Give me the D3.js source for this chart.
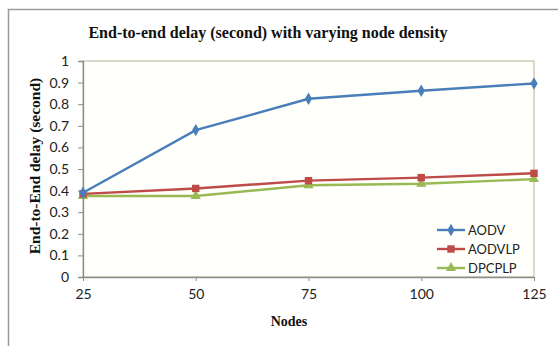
<!DOCTYPE html>
<html>
<head>
<meta charset="utf-8">
<script src="https://cdn.jsdelivr.net/npm/d3@7"></script>
<style>
  body { margin: 0; background: #fff; }
  svg { display: block; }
</style>
</head>
<body>
<div id="chart"></div>
<script>
// chart data
const nodes = [25, 50, 75, 100, 125];
const aodv = [0.39, 0.68, 0.825, 0.862, 0.896];
const aodvlp = [0.385, 0.41, 0.446, 0.46, 0.48];
const dpcplp = [0.375, 0.375, 0.425, 0.432, 0.453];
const yTicks = [0, 0.1, 0.2, 0.3, 0.4, 0.5, 0.6, 0.7, 0.8, 0.9, 1];
const seriesNames = ["AODV", "AODVLP", "DPCPLP"];

function init() {
  const W = 558, H = 346;
  const margin = { top: 61, right: 24, bottom: 69, left: 83 },
        width = W - margin.left - margin.right,
        height = H - margin.top - margin.bottom;

  const svg = d3.select("#chart").append("svg")
      .attr("width", W)
      .attr("height", H);

  // outer chart frame
  svg.append("rect")
      .attr("x", 8.5).attr("y", 9.5)
      .attr("width", W + 10).attr("height", H + 10)
      .attr("fill", "#fff")
      .attr("stroke", "#9a9a9a")
      .attr("stroke-width", 1.5);

  const g = svg.append("g")
      .attr("transform", "translate(" + margin.left + "," + margin.top + ")");

  const x = d3.scalePoint().domain(nodes).range([0, width]);
  const y = d3.scaleLinear().domain([0, 1]).range([height, 0]);

  // plot area border (top/right)
  g.append("rect")
      .attr("x", 0).attr("y", 0)
      .attr("width", width).attr("height", height)
      .attr("fill", "#fffffb")
      .attr("stroke", "#c4c2a4")
      .attr("stroke-width", 1.2);

  // y axis
  const yAxis = g.append("g")
      .call(d3.axisLeft(y).tickValues(yTicks).tickSize(5).tickPadding(9)
        .tickFormat(d => d3.format("")(+d.toFixed(1))));
  yAxis.select(".domain").attr("stroke", "#8c8c8c").attr("stroke-width", 1.3);
  yAxis.selectAll(".tick line").attr("stroke", "#8c8c8c");
  yAxis.selectAll("text")
      .attr("fill", "#222")
      .style("font-family", "Lato, 'Open Sans', sans-serif")
      .style("font-size", "14px");

  // x axis
  const xAxis = g.append("g")
      .attr("transform", "translate(0," + height + ")")
      .call(d3.axisBottom(x).tickSize(4).tickPadding(8).tickSizeOuter(0));
  xAxis.select(".domain").attr("stroke", "#8c8c8c").attr("stroke-width", 1.3);
  xAxis.selectAll(".tick line").attr("stroke", "#8c8c8c");
  xAxis.selectAll("text")
      .attr("fill", "#222")
      .style("font-family", "Lato, 'Open Sans', sans-serif")
      .style("font-size", "14px");

  const series = [
    { name: seriesNames[0], values: aodv, color: "#4a7ebb", shape: d3.symbolDiamond, size: 45 },
    { name: seriesNames[1], values: aodvlp, color: "#be4b48", shape: d3.symbolSquare, size: 55 },
    { name: seriesNames[2], values: dpcplp, color: "#98b954", shape: d3.symbolTriangle, size: 45 }
  ];

  const line = d3.line()
      .x((d, i) => x(nodes[i]))
      .y(d => y(d));

  // draw in reverse so AODV sits on top
  series.slice().reverse().forEach(s => {
    g.append("path")
        .datum(s.values)
        .attr("fill", "none")
        .attr("stroke", s.color)
        .attr("stroke-width", 2.4)
        .attr("d", line);
    g.selectAll(null)
        .data(s.values)
        .enter().append("path")
        .attr("transform", (d, i) => "translate(" + x(nodes[i]) + "," + y(d) + ")")
        .attr("d", d3.symbol().type(s.shape).size(s.size))
        .attr("fill", s.color);
  });

  // legend
  const legend = svg.append("g").attr("transform", "translate(437,230)");
  series.forEach((s, i) => {
    const row = legend.append("g").attr("transform", "translate(0," + (i * 19) + ")");
    row.append("line")
        .attr("x1", 0).attr("x2", 28)
        .attr("stroke", s.color).attr("stroke-width", 2.4);
    row.append("path")
        .attr("transform", "translate(14,0)")
        .attr("d", d3.symbol().type(s.shape).size(s.size))
        .attr("fill", s.color);
    row.append("text")
        .attr("x", 31).attr("y", 4.5)
        .attr("fill", "#222")
        .style("font-family", "Lato, 'Open Sans', sans-serif")
        .style("font-size", "13px")
        .text(s.name);
  });

  // title
  svg.append("text")
      .attr("x", 268).attr("y", 38)
      .attr("text-anchor", "middle")
      .style("font-family", "'Liberation Serif', serif")
      .style("font-weight", "bold")
      .style("font-size", "16px")
      .attr("fill", "#111")
      .text("End-to-end delay (second) with varying node density");

  // axis titles
  svg.append("text")
      .attr("transform", "translate(40,166) rotate(-90)")
      .attr("text-anchor", "middle")
      .style("font-family", "'Liberation Serif', serif")
      .style("font-weight", "bold")
      .style("font-size", "15.5px")
      .attr("fill", "#111")
      .text("End-to-End delay (second)");

  svg.append("text")
      .attr("x", 289).attr("y", 326)
      .attr("text-anchor", "middle")
      .style("font-family", "'Liberation Serif', serif")
      .style("font-weight", "bold")
      .style("font-size", "14px")
      .attr("fill", "#111")
      .text("Nodes");
}

window.onload = init;
</script>
</body>
</html>
